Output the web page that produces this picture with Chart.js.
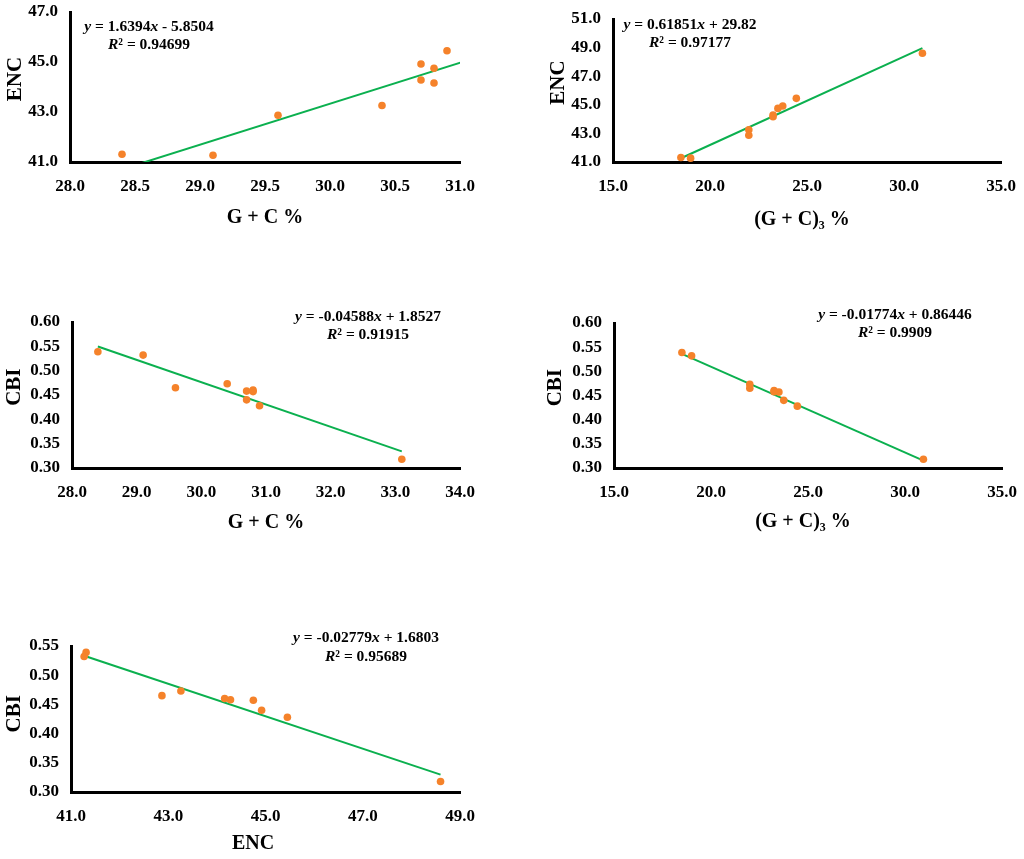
<!DOCTYPE html>
<html>
<head>
<meta charset="utf-8">
<script src="https://cdn.jsdelivr.net/npm/chart.js@4.4.1/dist/chart.umd.min.js"></script>
<style>
html,body{margin:0;padding:0;background:#fff;}
body{width:1024px;height:859px;position:relative;overflow:hidden;}
canvas{position:absolute;display:block;}
</style>
</head>
<body>
<canvas id="c1"></canvas>
<canvas id="c2"></canvas>
<canvas id="c3"></canvas>
<canvas id="c4"></canvas>
<canvas id="c5"></canvas>
<script>
// ---- data (one entry per sample) ----
const gcContent  = [28.4, 29.1, 29.6, 30.4, 30.7, 30.7, 30.8, 30.8, 30.9, 33.1];
const gc3Content = [18.5, 19.0, 22.0, 22.0, 23.75, 23.25, 23.5, 23.25, 24.45, 30.95];
const encValues  = [41.31, 41.27, 42.87, 43.26, 44.92, 44.28, 44.75, 44.16, 45.45, 48.6];
const cbiValues  = [0.539, 0.532, 0.465, 0.473, 0.440, 0.458, 0.457, 0.460, 0.428, 0.318];

// ---- trendline equations printed on the panels ----
const trendSlopes     = [1.6394, 0.61851, -0.04588, -0.01774, -0.02779];
const trendIntercepts = [-5.8504, 29.82, 1.8527, 0.86446, 1.6803];
const rSquared        = ['0.94699', '0.97177', '0.91915', '0.9909', '0.95689'];

// ---- tick values ----
const gcTicksA  = [28.0, 28.5, 29.0, 29.5, 30.0, 30.5, 31.0];
const gcTicksB  = [28.0, 29.0, 30.0, 31.0, 32.0, 33.0, 34.0];
const gc3Ticks  = [15.0, 20.0, 25.0, 30.0, 35.0];
const encTicksA = [41.0, 43.0, 45.0, 47.0];
const encTicksB = [41.0, 43.0, 45.0, 47.0, 49.0, 51.0];
const encTicksC = [41.0, 43.0, 45.0, 47.0, 49.0];
const cbiTicksA = [0.30, 0.35, 0.40, 0.45, 0.50, 0.55, 0.60];
const cbiTicksB = [0.30, 0.35, 0.40, 0.45, 0.50, 0.55];

const FONT = "'Liberation Serif', 'Times New Roman', serif";
const ORANGE = '#F5822A';
const GREEN = '#0BB04F';

const panels = [
  {id:'c1', xs:gcContent,  ys:encValues, xT:gcTicksA, yT:encTicksA, xd:1, yd:1, xTitle:'G + C %',     yTitle:'   ENC',
   box:{left:0,   top:0,   w:480, h:230}, area:{l:70, r:460, t:12, b:162}, yPad:3.4,  eq:{cx:149, y1:27, y2:45}},
  {id:'c2', xs:gc3Content, ys:encValues, xT:gc3Ticks,  yT:encTicksB, xd:1, yd:1, xTitle:'(G + C)\u2083 %  ', yTitle:'   ENC',
   box:{left:530, top:0,   w:494, h:232}, area:{l:83, r:471, t:19, b:162}, yPad:15.9, eq:{cx:160, y1:25, y2:43}},
  {id:'c3', xs:gcContent,  ys:cbiValues, xT:gcTicksB, yT:cbiTicksA, xd:1, yd:2, xTitle:'G + C %',     yTitle:'   CBI',
   box:{left:0,   top:300, w:480, h:235}, area:{l:72, r:460, t:22, b:168}, yPad:2.4,  eq:{cx:368, y1:17, y2:35}},
  {id:'c4', xs:gc3Content, ys:cbiValues, xT:gc3Ticks,  yT:cbiTicksA, xd:1, yd:2, xTitle:'(G + C)\u2083 %  ', yTitle:'   CBI',
   box:{left:530, top:300, w:494, h:234}, area:{l:84, r:472, t:23, b:168}, yPad:12.9, eq:{cx:365, y1:15, y2:33}},
  {id:'c5', xs:encValues,  ys:cbiValues, xT:encTicksC, yT:cbiTicksB, xd:1, yd:2, xTitle:'ENC     ',   yTitle:'  CBI',
   box:{left:0,   top:610, w:480, h:246}, area:{l:71, r:460, t:36, b:182}, yPad:2.4,  eq:{cx:366, y1:28, y2:47}}
];

const eqPlugin = {
  id: 'eqText',
  afterDraw(chart, args, opts) {
    const ctx = chart.ctx;
    const size = 15.5;
    const norm = 'bold ' + size + 'px ' + FONT;
    const ital = 'italic bold ' + size + 'px ' + FONT;
    const drawLine = (segs, cx, cy) => {
      let total = 0;
      segs.forEach(s => { ctx.font = s.i ? ital : norm; total += ctx.measureText(s.t).width; });
      let x = cx - total / 2;
      ctx.textBaseline = 'middle';
      ctx.textAlign = 'left';
      ctx.fillStyle = '#000';
      segs.forEach(s => { ctx.font = s.i ? ital : norm; ctx.fillText(s.t, x, cy); x += ctx.measureText(s.t).width; });
    };
    const k = opts.k;
    const m = trendSlopes[k], c = trendIntercepts[k];
    ctx.save();
    drawLine([{t:'y', i:true}, {t:' = ' + m}, {t:'x', i:true}, {t:(c < 0 ? ' - ' : ' + ') + Math.abs(c)}], opts.cx, opts.y1);
    drawLine([{t:'R', i:true}, {t:'\u00B2 = ' + rSquared[k]}], opts.cx, opts.y2);
    ctx.restore();
  }
};

const noPad = s => { s.paddingTop = 0; s.paddingBottom = 0; s.paddingLeft = 0; s.paddingRight = 0; };

panels.forEach((p, k) => {
  const cv = document.getElementById(p.id);
  cv.width = p.box.w; cv.height = p.box.h;
  cv.style.left = p.box.left + 'px'; cv.style.top = p.box.top + 'px';
  cv.style.width = p.box.w + 'px'; cv.style.height = p.box.h + 'px';
  const pts = p.xs.map((v, i) => ({x: v, y: p.ys[i]}));
  const xmin = Math.min(...p.xs), xmax = Math.max(...p.xs);
  const trend = [xmin, xmax].map(v => ({x: v, y: trendSlopes[k] * v + trendIntercepts[k]}));
  const tickFont = {family: FONT, size: 17, weight: 'bold'};
  new Chart(cv, {
    type: 'scatter',
    data: {datasets: [
      {label: 'data', data: pts, backgroundColor: ORANGE, borderColor: ORANGE, borderWidth: 0,
       pointRadius: 3.8, pointHoverRadius: 3.8, order: 1},
      {label: 'trend', type: 'line', data: trend, borderColor: GREEN, borderWidth: 2, pointRadius: 0,
       fill: false, showLine: true, clip: 0, order: 2}
    ]},
    options: {
      responsive: false, animation: false, events: [], devicePixelRatio: 1,
      layout: {padding: {left: 0, top: p.area.t, right: p.box.w - p.area.r, bottom: 0}},
      plugins: {legend: {display: false}, tooltip: {enabled: false},
                eqText: {k: k, cx: p.eq.cx, y1: p.eq.y1, y2: p.eq.y2}},
      scales: {
        x: {type: 'linear', min: p.xT[0], max: p.xT[p.xT.length - 1],
            grid: {display: false, drawTicks: false},
            border: {display: true, color: '#000', width: 3},
            afterBuildTicks: s => { s.ticks = p.xT.map(v => ({value: v})); },
            afterFit: s => { s.height = p.box.h - p.area.b; noPad(s); },
            ticks: {padding: 14, color: '#000', font: tickFont, autoSkip: false, maxRotation: 0,
                    callback: v => Number(v).toFixed(p.xd)},
            title: {display: true, text: p.xTitle, color: '#000',
                    font: {family: FONT, size: 20, weight: 'bold'}, padding: {top: 0, bottom: 0}}},
        y: {type: 'linear', min: p.yT[0], max: p.yT[p.yT.length - 1],
            grid: {display: false, drawTicks: false},
            border: {display: true, color: '#000', width: 3},
            afterBuildTicks: s => { s.ticks = p.yT.map(v => ({value: v})); },
            afterFit: s => { s.width = p.area.l; noPad(s); },
            ticks: {padding: 12, color: '#000', font: tickFont, autoSkip: false,
                    callback: v => Number(v).toFixed(p.yd)},
            title: {display: true, text: p.yTitle, color: '#000',
                    font: {family: FONT, size: 21, weight: 'bold'}, padding: {top: p.yPad, bottom: 0}}}
      }
    },
    plugins: [eqPlugin]
  });
});
</script>
</body>
</html>
